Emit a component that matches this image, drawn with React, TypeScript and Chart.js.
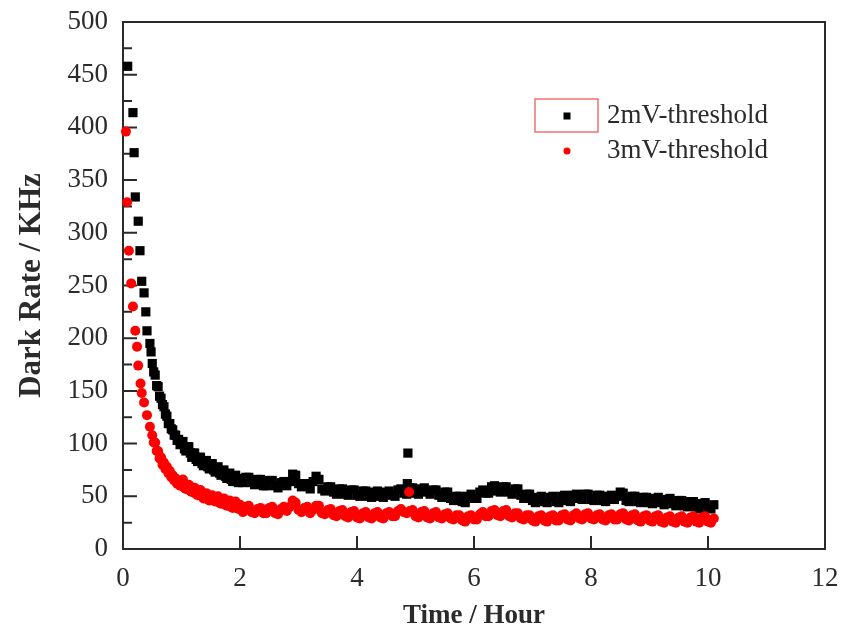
import React, { useEffect, useRef } from "react";
import { Chart, registerables } from "chart.js";

Chart.register(...registerables);

const seriesLabels = ["2mV-threshold", "3mV-threshold"];
const xTitle = "Time / Hour";
const yTitle = "Dark Rate / KHz";
const xTicks = [0, 2, 4, 6, 8, 10, 12];
const yTicks = [0, 50, 100, 150, 200, 250, 300, 350, 400, 450, 500];

// 2mV-threshold (black squares)
const blackTime = [
  0.08, 0.17, 0.19, 0.21, 0.26, 0.29, 0.32, 0.36, 0.39, 0.41, 0.46, 0.48,
  0.5, 0.525, 0.55, 0.575, 0.6, 0.625, 0.65, 0.675, 0.7, 0.725, 0.75, 0.775, 0.8, 0.825, 0.85, 0.875, 0.9, 0.925, 0.95, 0.975, 1.0,
  1.05, 1.1, 1.15, 1.2, 1.25, 1.3, 1.35, 1.4, 1.45, 1.5, 1.55, 1.6, 1.65, 1.7, 1.75, 1.8, 1.85, 1.9, 1.95, 2.0,
  2.1, 2.2, 2.3, 2.4, 2.5, 2.6, 2.7, 2.8, 2.9, 3.0,
  3.1, 3.2, 3.3, 3.4, 3.5, 3.6, 3.7, 3.8, 3.9, 4.0,
  4.1, 4.2, 4.3, 4.4, 4.5, 4.6, 4.7, 4.8, 4.9, 5.0,
  5.1, 5.2, 5.3, 5.4, 5.5, 5.6, 5.7, 5.8, 5.9, 6.0,
  6.1, 6.2, 6.3, 6.4, 6.5, 6.6, 6.7, 6.8, 6.9, 7.0,
  7.1, 7.2, 7.3, 7.4, 7.5, 7.6, 7.7, 7.8, 7.9, 8.0,
  8.1, 8.2, 8.3, 8.4, 8.5, 8.6, 8.7, 8.8, 8.9, 9.0,
  9.1, 9.2, 9.3, 9.4, 9.5, 9.6, 9.7, 9.8, 9.9, 10.0,
  10.1, 2.95, 3.33, 4.86, 4.87,
];
const blackRate = [
  458, 414, 376, 334, 311, 283, 254, 243, 225, 207, 195, 187,
  176, 168, 165, 155, 154, 145, 143, 137, 135, 128, 126, 119, 119, 114, 113, 108, 108, 103, 104, 99, 101,
  95, 97, 91, 91, 85, 87, 81, 83, 78, 80, 75, 77, 72, 74, 69, 71, 66, 69, 64, 67,
  68, 63, 66, 60, 65, 60, 63, 60, 71, 62,
  62, 57, 69, 57, 59, 54, 57, 52, 56, 51,
  55, 50, 54, 50, 54, 51, 56, 53, 58, 53,
  57, 54, 56, 51, 54, 48, 50, 45, 50, 48,
  54, 53, 59, 55, 59, 54, 57, 51, 52, 46,
  49, 45, 49, 45, 50, 46, 51, 48, 52, 47,
  51, 46, 50, 47, 54, 46, 50, 45, 49, 44,
  48, 44, 47, 43, 46, 41, 45, 40, 43, 39,
  42, 69, 66, 62, 91,
];

// 3mV-threshold (red circles)
const redTime = [
  0.05, 0.07, 0.1, 0.14, 0.17, 0.21, 0.24, 0.26, 0.3, 0.32, 0.36, 0.41, 0.46,
  0.5, 0.525, 0.55, 0.575, 0.6, 0.625, 0.65, 0.675, 0.7, 0.725, 0.75, 0.775, 0.8, 0.825, 0.85, 0.875, 0.9, 0.925, 0.95, 0.975, 1.0,
  1.05, 1.1, 1.15, 1.2, 1.25, 1.3, 1.35, 1.4, 1.45, 1.5, 1.55, 1.6, 1.65, 1.7, 1.75, 1.8, 1.85, 1.9, 1.95, 2.0,
  2.1, 2.2, 2.3, 2.4, 2.5, 2.6, 2.7, 2.8, 2.9, 3.0,
  3.1, 3.2, 3.3, 3.4, 3.5, 3.6, 3.7, 3.8, 3.9, 4.0,
  4.1, 4.2, 4.3, 4.4, 4.5, 4.6, 4.7, 4.8, 4.9, 5.0,
  5.1, 5.2, 5.3, 5.4, 5.5, 5.6, 5.7, 5.8, 5.9, 6.0,
  6.1, 6.2, 6.3, 6.4, 6.5, 6.6, 6.7, 6.8, 6.9, 7.0,
  7.1, 7.2, 7.3, 7.4, 7.5, 7.6, 7.7, 7.8, 7.9, 8.0,
  8.1, 8.2, 8.3, 8.4, 8.5, 8.6, 8.7, 8.8, 8.9, 9.0,
  9.1, 9.2, 9.3, 9.4, 9.5, 9.6, 9.7, 9.8, 9.9, 10.0,
  10.1, 2.93, 4.89,
];
const redRate = [
  396, 329, 283, 252, 230, 207, 192, 174, 157, 148, 139, 127, 116,
  108, 101, 101, 93, 93, 86, 87, 80, 82, 76, 78, 72, 74, 68, 70, 65, 67, 62, 64, 60, 63,
  58, 61, 55, 58, 52, 55, 50, 52, 47, 50, 46, 49, 44, 47, 42, 45, 40, 44, 39, 42,
  40, 35, 38, 34, 39, 34, 38, 36, 46, 37,
  39, 34, 41, 34, 37, 32, 36, 31, 35, 30,
  34, 30, 34, 30, 34, 31, 36, 35, 36, 31,
  35, 30, 34, 30, 33, 29, 32, 27, 31, 28,
  33, 31, 36, 32, 36, 31, 34, 29, 32, 27,
  31, 27, 31, 27, 32, 28, 32, 29, 33, 29,
  32, 28, 32, 28, 33, 28, 32, 27, 31, 27,
  31, 26, 30, 26, 30, 26, 30, 26, 30, 26,
  29, 44, 54,
];

// in-between readings of the dense bands (shared time stamps)
const halfTime = [
  1.025, 1.075, 1.125, 1.175, 1.225, 1.275, 1.325, 1.375, 1.425, 1.475,
  1.525, 1.575, 1.625, 1.675, 1.725, 1.775, 1.825, 1.875, 1.925, 1.975,
  2.05, 2.15, 2.25, 2.35, 2.45, 2.55, 2.65, 2.75, 2.85, 2.95,
  3.05, 3.15, 3.25, 3.35, 3.45, 3.55, 3.65, 3.75, 3.85, 3.95,
  4.05, 4.15, 4.25, 4.35, 4.45, 4.55, 4.65, 4.75, 4.85, 4.95,
  5.05, 5.15, 5.25, 5.35, 5.45, 5.55, 5.65, 5.75, 5.85, 5.95,
  6.05, 6.15, 6.25, 6.35, 6.45, 6.55, 6.65, 6.75, 6.85, 6.95,
  7.05, 7.15, 7.25, 7.35, 7.45, 7.55, 7.65, 7.75, 7.85, 7.95,
  8.05, 8.15, 8.25, 8.35, 8.45, 8.55, 8.65, 8.75, 8.85, 8.95,
  9.05, 9.15, 9.25, 9.35, 9.45, 9.55, 9.65, 9.75, 9.85, 9.95,
  10.05,
];
const blackHalfRate = [
  102, 93, 97, 87, 91, 83, 87, 79, 84, 76,
  81, 73, 78, 70, 75, 67, 72, 64, 70, 63,
  63, 68, 61, 66, 60, 65, 58, 64, 64, 70,
  59, 62, 64, 66, 55, 59, 52, 57, 51, 56,
  50, 55, 49, 55, 49, 55, 50, 57, 52, 58,
  52, 58, 52, 56, 49, 54, 46, 50, 44, 52,
  48, 56, 53, 60, 54, 59, 52, 57, 48, 52,
  44, 50, 44, 50, 44, 51, 45, 52, 47, 52,
  46, 51, 45, 51, 50, 53, 45, 50, 44, 49,
  43, 49, 42, 48, 41, 46, 40, 45, 38, 44,
  38,
];
const redHalfRate = [
  66, 57, 61, 54, 58, 51, 56, 48, 53, 46,
  51, 45, 50, 43, 48, 41, 46, 39, 45, 38,
  35, 41, 34, 39, 34, 40, 33, 40, 40, 44,
  35, 40, 37, 41, 33, 38, 31, 37, 30, 36,
  29, 35, 29, 35, 29, 35, 31, 38, 34, 37,
  30, 36, 29, 35, 29, 34, 28, 32, 26, 32,
  28, 35, 31, 37, 31, 37, 30, 34, 28, 32,
  26, 32, 26, 32, 27, 33, 27, 34, 28, 34,
  28, 33, 27, 33, 28, 34, 27, 33, 26, 32,
  26, 32, 25, 31, 25, 31, 25, 31, 25, 31,
  25,
];

const FONT_FAMILY = "'Times New Roman', 'Liberation Serif', serif";
const TEXT_COLOR = "#2b2b2b";
const AXIS_COLOR = "#2a2a2a";

const framePlugin = {
  id: "frameTicks",
  beforeDatasetsDraw(chart: any) {
    const { ctx, chartArea } = chart;
    const xs = chart.scales.x;
    const ys = chart.scales.y;
    ctx.save();
    ctx.strokeStyle = AXIS_COLOR;
    ctx.lineWidth = 2;
    ctx.strokeRect(chartArea.left, chartArea.top, chartArea.right - chartArea.left, chartArea.bottom - chartArea.top);
    ctx.beginPath();
    for (let i = 0; i < yTicks.length; i++) {
      const py = ys.getPixelForValue(yTicks[i]);
      ctx.moveTo(chartArea.left, py);
      ctx.lineTo(chartArea.left + 14, py);
      if (i < yTicks.length - 1) {
        const pm = ys.getPixelForValue((yTicks[i] + yTicks[i + 1]) / 2);
        ctx.moveTo(chartArea.left, pm);
        ctx.lineTo(chartArea.left + 9, pm);
      }
    }
    for (const t of xTicks) {
      const px = xs.getPixelForValue(t);
      ctx.moveTo(px, chartArea.bottom);
      ctx.lineTo(px, chartArea.bottom - 13);
    }
    ctx.stroke();
    ctx.restore();
  },
  afterDraw(chart: any) {
    const { ctx, chartArea } = chart;
    const L = chartArea.left;
    const T = chartArea.top;
    ctx.save();
    ctx.strokeStyle = "#f07070";
    ctx.lineWidth = 1.5;
    ctx.strokeRect(L + 412, T + 77, 63, 33);
    ctx.fillStyle = "#000";
    ctx.fillRect(L + 444 - 3.5, T + 94 - 3.5, 7, 7);
    ctx.fillStyle = "#ff0000";
    ctx.beginPath();
    ctx.arc(L + 444, T + 129, 3.5, 0, Math.PI * 2);
    ctx.fill();
    ctx.fillStyle = TEXT_COLOR;
    ctx.font = `27px ${FONT_FAMILY}`;
    ctx.textAlign = "left";
    ctx.textBaseline = "middle";
    ctx.fillText(seriesLabels[0], L + 484, T + 94);
    ctx.fillText(seriesLabels[1], L + 484, T + 129);
    ctx.restore();
  },
};

export default function App() {
  const ref = useRef<HTMLCanvasElement | null>(null);
  useEffect(() => {
    document.body.style.margin = "0";
    const canvas = ref.current;
    if (!canvas) return;
    const blackPts = blackTime
      .map((t, i) => ({ x: t, y: blackRate[i] }))
      .concat(halfTime.map((t, i) => ({ x: t, y: blackHalfRate[i] })));
    const redPts = redTime
      .map((t, i) => ({ x: t, y: redRate[i] }))
      .concat(halfTime.map((t, i) => ({ x: t, y: redHalfRate[i] })));
    const chart = new Chart(canvas, {
      type: "scatter",
      data: {
        datasets: [
          {
            label: seriesLabels[1],
            data: redPts,
            pointStyle: "circle",
            pointRadius: 5,
            pointHoverRadius: 5,
            backgroundColor: "#ff0000",
            borderColor: "#ff0000",
            pointBorderWidth: 0,
            order: 0,
            clip: false as any,
          },
          {
            label: seriesLabels[0],
            data: blackPts,
            pointStyle: "rect",
            pointRadius: 6.5,
            pointHoverRadius: 6.5,
            backgroundColor: "#000000",
            borderColor: "#000000",
            pointBorderWidth: 0,
            order: 1,
            clip: false as any,
          },
        ],
      },
      options: {
        animation: false,
        responsive: false,
        events: [],
        layout: { padding: { top: 22, right: 30, left: 0, bottom: 0 } },
        plugins: {
          legend: { display: false },
          tooltip: { enabled: false },
        },
        scales: {
          x: {
            type: "linear",
            min: 0,
            max: 12,
            grid: { display: false, drawTicks: false },
            border: { display: false },
            afterBuildTicks: (s: any) => {
              s.ticks = xTicks.map((v) => ({ value: v }));
            },
            afterFit: (s: any) => {
              s.height = 81;
              s.paddingLeft = 0;
              s.paddingRight = 0;
            },
            ticks: {
              color: TEXT_COLOR,
              font: { family: FONT_FAMILY, size: 27 },
              padding: 14,
              maxRotation: 0,
            },
            title: {
              display: true,
              text: xTitle,
              color: TEXT_COLOR,
              font: { family: FONT_FAMILY, size: 27, weight: "bold", lineHeight: 1 },
              padding: { top: 0, bottom: 0 },
            },
          },
          y: {
            type: "linear",
            min: 0,
            max: 500,
            grid: { display: false, drawTicks: false },
            border: { display: false },
            afterBuildTicks: (s: any) => {
              s.ticks = yTicks.map((v) => ({ value: v }));
            },
            afterFit: (s: any) => {
              s.width = 123;
              s.paddingTop = 0;
              s.paddingBottom = 0;
            },
            ticks: {
              color: TEXT_COLOR,
              font: { family: FONT_FAMILY, size: 27 },
              padding: 15,
            },
            title: {
              display: true,
              text: yTitle,
              color: TEXT_COLOR,
              font: { family: FONT_FAMILY, size: 31, weight: "bold", lineHeight: 1.2 },
              padding: { top: 13, bottom: 0 },
            },
          },
        },
      },
      plugins: [framePlugin],
    });
    return () => chart.destroy();
  }, []);
  return <canvas ref={ref} width={855} height={630} style={{ display: "block" }} />;
}
